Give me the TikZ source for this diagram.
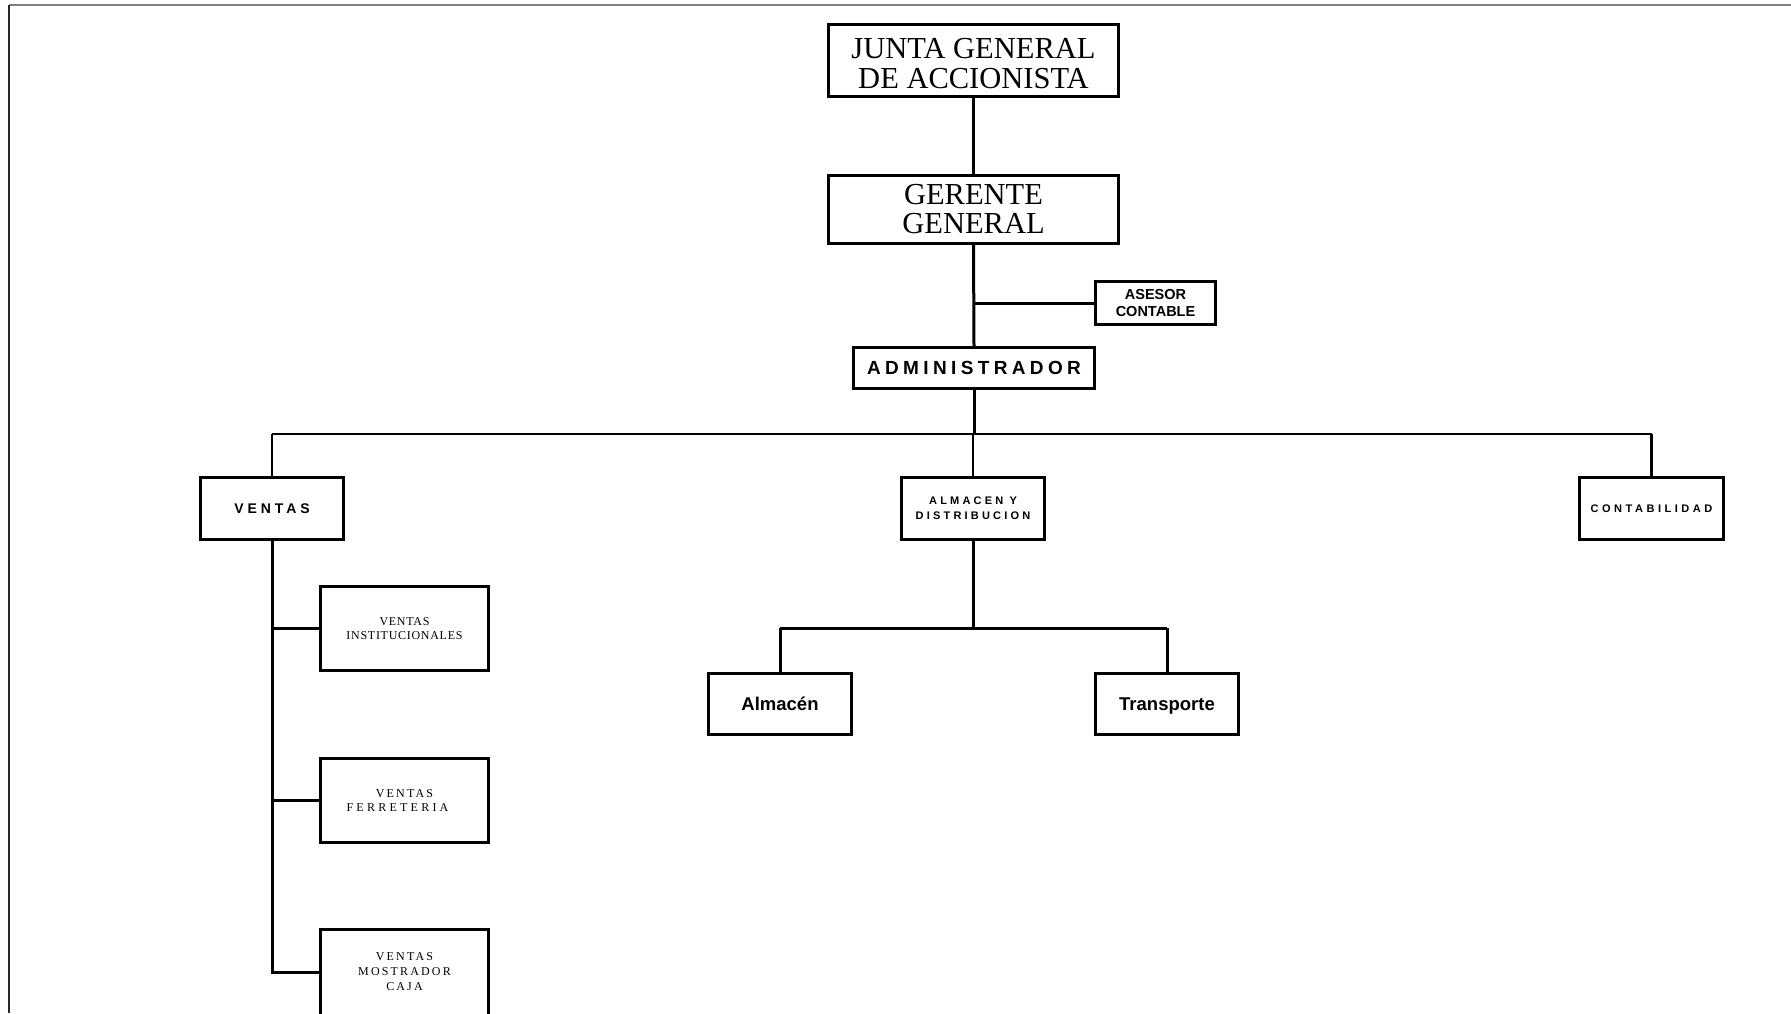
\documentclass[tikz,border=0pt]{standalone}
\usepackage{fontspec}
\setmainfont{Liberation Serif}
\newfontfamily\arialb{Liberation Sans}
\tikzset{
  orgbox/.style={draw, line width=3pt, inner sep=0pt, align=center, fill=white},
  link/.style={line width=3pt},
  buslink/.style={line width=2.5pt},
}
\newcommand{\lspc}[1]{\addfontfeature{LetterSpace=#1}}
\begin{document}
\begin{tikzpicture}[x=1pt,y=-1pt]
\useasboundingbox (0,0) rectangle (1791,1013);
\clip (0,0) rectangle (1791,1013);
% frame
\draw[line width=2pt, color=gray] (9,5) -- (1791,5);
\draw[line width=2pt, color=black!85] (9,5) -- (9,1013);

% nodes
\node[orgbox, minimum width=290pt, minimum height=72pt] (junta) at (973.5,60.5) {};
\node[align=center, inner sep=0pt, yshift=-3pt,
  font={\fontsize{30.5}{29.5}\selectfont}] (juntatxt) at (junta.center)
  {JUNTA GENERAL\\DE ACCIONISTA};
\node[orgbox, minimum width=290pt, minimum height=68pt,
  font={\fontsize{30.5}{29}\selectfont}] (gerente) at (973.5,209.5)
  {GERENTE\\GENERAL};
\node[orgbox, minimum width=120pt, minimum height=43pt,
  font={\arialb\bfseries\fontsize{14.5}{17}\selectfont}] (asesor) at (1155.5,303)
  {ASESOR\\CONTABLE};
\node[orgbox, minimum width=241pt, minimum height=41pt,
  font={\arialb\bfseries\fontsize{19}{20}\selectfont\lspc{23}}] (admin) at (974,368)
  {ADMINISTRADOR};
\node[orgbox, minimum width=143pt, minimum height=62pt,
  font={\arialb\bfseries\fontsize{14}{16}\selectfont\lspc{28}}] (ventas) at (272,508.5)
  {VENTAS};
\node[orgbox, minimum width=143pt, minimum height=62pt,
  font={\arialb\bfseries\fontsize{11}{15}\selectfont\lspc{29}}] (almdist) at (973,508.5)
  {ALMACEN Y\\DISTRIBUCION};
\node[orgbox, minimum width=144pt, minimum height=62pt,
  font={\arialb\bfseries\fontsize{11}{15}\selectfont\lspc{32}}] (contab) at (1651.5,508.5)
  {CONTABILIDAD};
\node[orgbox, minimum width=143pt, minimum height=61pt, text height=17pt, text depth=4pt,
  font={\arialb\bfseries\fontsize{18.5}{20}\selectfont}] (almacen) at (780,704)
  {Almacén};
\node[orgbox, minimum width=143pt, minimum height=61pt, text height=17pt, text depth=4pt,
  font={\arialb\bfseries\fontsize{18.5}{20}\selectfont}] (transp) at (1167,704)
  {Transporte};
\node[orgbox, minimum width=168pt, minimum height=84pt,
  font={\fontsize{12}{14.5}\selectfont\lspc{6}}] (inst) at (404.5,628.5)
  {VENTAS\\INSTITUCIONALES};
\node[orgbox, minimum width=168pt, minimum height=84pt,
  font={\fontsize{12}{14.5}\selectfont\lspc{18}}] (ferr) at (404.5,800.5)
  {VENTAS\\\lspc{27}FERRETERIA\hspace*{14pt}};
\node[orgbox, minimum width=168pt, minimum height=86pt,
  font={\fontsize{12}{15}\selectfont\lspc{18}}] (most) at (404.5,972)
  {VENTAS\\MOSTRADOR\\CAJA};

% coordinates
\coordinate (bus) at (974,434);
\coordinate (bus2) at (973,628);

% connectors
\draw[link] (junta.south) -- (gerente.north);
\draw[link] (gerente.south) -- (admin.north);
\draw[link] (gerente.south |- asesor.west) -- (asesor.west);
\draw[link] (admin.south) -- (bus);
\draw[buslink] (ventas.north |- bus) -- (contab.north |- bus);
\draw[buslink] (ventas.north |- bus) -- (ventas.north);
\draw[buslink] (almdist.north |- bus) -- (almdist.north);
\draw[buslink] (contab.north |- bus) -- (contab.north);
\draw[link] (almdist.south) -- (bus2);
\draw[link] (almacen.north |- bus2) -- (transp.north |- bus2);
\draw[link] (almacen.north |- bus2) -- (almacen.north);
\draw[link] (transp.north |- bus2) -- (transp.north);
\draw[link] (ventas.south) -- (ventas.south |- most.west) -- (most.west);
\draw[link] (ventas.south |- inst.west) -- (inst.west);
\draw[link] (ventas.south |- ferr.west) -- (ferr.west);
\end{tikzpicture}
\end{document}
